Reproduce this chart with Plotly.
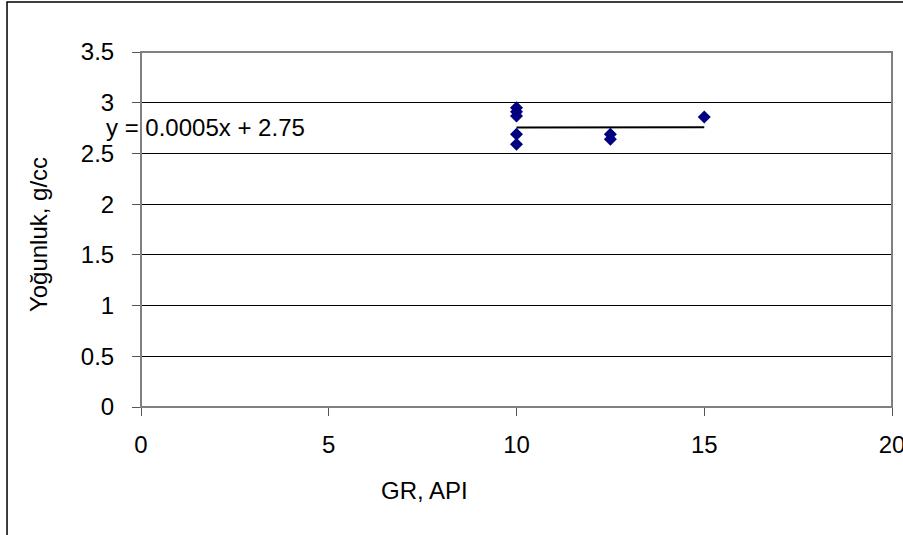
import plotly.graph_objects as go

# GR (API) and bulk density (g/cc) samples
gr_api = [10, 10, 10, 10, 10, 12.5, 12.5, 15]
density = [2.95, 2.91, 2.87, 2.69, 2.59, 2.69, 2.64, 2.86]

# Linear trendline coefficients
slope = 0.0005
intercept = 2.75
trend_x = [min(gr_api), max(gr_api)]
trend_y = [slope * x + intercept for x in trend_x]

x_ticks = [0, 5, 10, 15, 20]
y_ticks = [0, 0.5, 1, 1.5, 2, 2.5, 3, 3.5]

x_title = "GR, API"
y_title = "Yoğunluk, g/cc"

font_family = "Liberation Sans, Arial, sans-serif"
fs = 24

fig = go.Figure()
fig.add_trace(go.Scatter(
    x=gr_api, y=density, mode="markers",
    marker=dict(symbol="diamond", size=10, color="#000080",
                line=dict(width=0)),
    showlegend=False, hoverinfo="x+y",
))
fig.add_trace(go.Scatter(
    x=trend_x, y=trend_y, mode="lines",
    line=dict(color="black", width=2),
    showlegend=False, hoverinfo="skip",
))

# Trendline equation
fig.add_annotation(
    x=0, y=intercept, xref="x", yref="y",
    xshift=-37, yshift=1,
    text=f"y = {slope}x + {intercept}", showarrow=False,
    xanchor="left", yanchor="middle",
    font=dict(family=font_family, size=fs, color="black"),
)

# Axis titles, placed relative to the whole chart area
fig.add_annotation(
    x=0.378, y=-0.234, xref="paper", yref="paper",
    text=x_title, showarrow=False,
    xanchor="center", yanchor="middle",
    font=dict(family=font_family, size=fs, color="black"),
)
fig.add_annotation(
    x=-0.137, y=0.4845, xref="paper", yref="paper",
    text=y_title, showarrow=False, textangle=-90,
    xanchor="center", yanchor="middle",
    font=dict(family=font_family, size=fs, color="black"),
)

# Plot area border
fig.add_shape(type="rect", xref="paper", yref="paper",
              x0=0, y0=0, x1=1, y1=1,
              line=dict(color="#808080", width=2), layer="above")
# Outer chart border
fig.add_shape(type="rect", xref="paper", yref="paper",
              x0=-0.1784, y0=-0.4, x1=1.05, y1=1.1408,
              line=dict(color="black", width=1.5))

fig.update_layout(
    width=903, height=535,
    margin=dict(l=141, r=11, t=52, b=128),
    paper_bgcolor="white", plot_bgcolor="white",
    font=dict(family=font_family, size=fs, color="black"),
    xaxis=dict(
        range=[0, 20], tickvals=x_ticks, ticktext=[str(v) for v in x_ticks],
        showgrid=False, zeroline=False, automargin=False,
        showline=True, linecolor="#555555", linewidth=1,
        ticks="outside", ticklen=8, tickcolor="#555555",
        ticklabelstandoff=8, ticklabeloverflow="allow",
        tickfont=dict(family=font_family, size=fs),
    ),
    yaxis=dict(
        range=[0, 3.5], tickvals=y_ticks,
        ticktext=["0", "0.5", "1", "1.5", "2", "2.5", "3", "3.5"],
        showgrid=True, gridcolor="black", gridwidth=1,
        zeroline=False, automargin=False,
        showline=True, linecolor="#555555", linewidth=1,
        ticks="outside", ticklen=8, tickcolor="#555555",
        ticklabelstandoff=13,
        tickfont=dict(family=font_family, size=fs),
    ),
)

fig.write_html("out.html")
